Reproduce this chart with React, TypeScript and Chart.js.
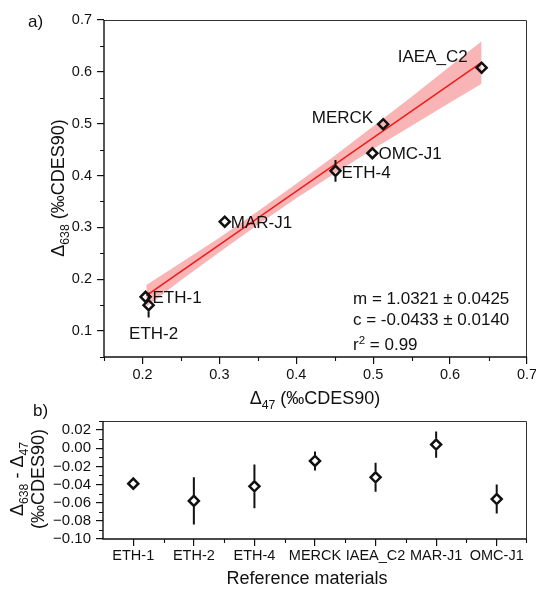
import React, { useEffect, useRef } from "react";
import { Chart, registerables } from "chart.js";

Chart.register(...registerables);

// ---- data ----
const materials = ["ETH-1", "ETH-2", "ETH-4", "MERCK", "IAEA_C2", "MAR-J1", "OMC-J1"];
// panel a: Δ47 vs Δ638 for each material (same order as `materials`)
const d47 = [0.204, 0.208, 0.451, 0.513, 0.641, 0.307, 0.499];
const d638 = [0.166, 0.15, 0.409, 0.499, 0.608, 0.311, 0.443];
const d638Err = [0.004, 0.024, 0.021, 0.005, 0.006, 0.004, 0.005];
// panel b: Δ638 − Δ47 per material
const diff = [-0.039, -0.058, -0.042, -0.014, -0.032, 0.004, -0.056];
const diffErr = [0.003, 0.026, 0.024, 0.0105, 0.016, 0.0145, 0.016];

// regression
const fitSlope = 1.0321;
const fitSlopeErr = 0.0425;
const fitIntercept = -0.0433;
const fitInterceptErr = 0.014;
const fitR2 = 0.99;
const fitRange = [0.205, 0.641];
// confidence band edges
const bandX = [0.205, 0.25, 0.3, 0.35, 0.4, 0.45, 0.5, 0.55, 0.6, 0.641];
const bandUpper = [0.189, 0.232, 0.28, 0.331, 0.384, 0.438, 0.495, 0.552, 0.611, 0.659];
const bandLower = [0.147, 0.198, 0.252, 0.305, 0.356, 0.404, 0.451, 0.496, 0.541, 0.577];

// axes
const topXTicks = [0.2, 0.3, 0.4, 0.5, 0.6, 0.7];
const topXMinor = [0.15, 0.25, 0.35, 0.45, 0.55, 0.65];
const topYTicks = [0.1, 0.2, 0.3, 0.4, 0.5, 0.6, 0.7];
const topYMinor = [0.05, 0.15, 0.25, 0.35, 0.45, 0.55, 0.65];
const botYTicks = [-0.1, -0.08, -0.06, -0.04, -0.02, 0, 0.02];
const botYMinor = [-0.09, -0.07, -0.05, -0.03, -0.01, 0.01, 0.03];

// ---- styling ----
const FONT = '"Liberation Sans", Arial, Helvetica, sans-serif';
const INK = "#111";
const RED = "#ee1c1c";
const BAND = "rgba(240, 70, 70, 0.4)";
const MARKER_R = 5;

const labelPlacement: Record<string, { dx: number; dy: number; align: CanvasTextAlign }> = {
  "ETH-1": { dx: 7, dy: 0, align: "left" },
  "ETH-2": { dx: 5, dy: 28, align: "center" },
  "ETH-4": { dx: 6, dy: 1, align: "left" },
  MERCK: { dx: -10, dy: -7, align: "right" },
  IAEA_C2: { dx: -14, dy: -12, align: "right" },
  "MAR-J1": { dx: 6, dy: 0, align: "left" },
  "OMC-J1": { dx: 6, dy: 0, align: "left" },
};

type Run = { text: string; script?: "sub" | "sup" };

// Draws a line of text with sub/superscripts; y is the visual middle of the capitals.
function drawRuns(
  ctx: CanvasRenderingContext2D,
  runs: Run[],
  x: number,
  y: number,
  size: number,
  align: CanvasTextAlign,
  rotate = false
) {
  ctx.save();
  ctx.translate(x, y);
  if (rotate) ctx.rotate(-Math.PI / 2);
  ctx.fillStyle = INK;
  ctx.textBaseline = "alphabetic";
  ctx.textAlign = "left";
  const small = size * 0.68;
  const widths = runs.map((r) => {
    ctx.font = `${r.script ? small : size}px ${FONT}`;
    return ctx.measureText(r.text).width;
  });
  const total = widths.reduce((a, b) => a + b, 0);
  let cx = align === "left" ? 0 : align === "center" ? -total / 2 : -total;
  const base = size * 0.36;
  runs.forEach((r, i) => {
    ctx.font = `${r.script ? small : size}px ${FONT}`;
    const dy = r.script === "sub" ? size * 0.24 : r.script === "sup" ? -size * 0.36 : 0;
    ctx.fillText(r.text, cx, base + dy);
    cx += widths[i];
  });
  ctx.restore();
}

function drawFrame(chart: any) {
  const { ctx, chartArea: a } = chart;
  ctx.save();
  ctx.strokeStyle = "#333";
  ctx.lineWidth = 1;
  ctx.beginPath();
  ctx.moveTo(a.left, a.top + 0.5);
  ctx.lineTo(a.right - 0.5, a.top + 0.5);
  ctx.lineTo(a.right - 0.5, a.bottom);
  ctx.stroke();
  ctx.strokeStyle = INK;
  ctx.lineWidth = 1.4;
  ctx.beginPath();
  ctx.moveTo(a.left, a.top);
  ctx.lineTo(a.left, a.bottom);
  ctx.lineTo(a.right, a.bottom);
  ctx.stroke();
  ctx.restore();
}

function minorTicksY(chart: any, scaleId: string, values: number[]) {
  const { ctx, chartArea: a } = chart;
  const s = chart.scales[scaleId];
  ctx.save();
  ctx.strokeStyle = INK;
  ctx.lineWidth = 1.1;
  ctx.beginPath();
  values.forEach((v) => {
    const p = Math.round(s.getPixelForValue(v)) + 0.5;
    if (p < a.top - 1 || p > a.bottom + 1) return;
    ctx.moveTo(a.left, p);
    ctx.lineTo(a.left - 4, p);
  });
  ctx.stroke();
  ctx.restore();
}

function minorTicksX(chart: any, pixels: number[]) {
  const { ctx, chartArea: a } = chart;
  ctx.save();
  ctx.strokeStyle = INK;
  ctx.lineWidth = 1.1;
  ctx.beginPath();
  pixels.forEach((px) => {
    const p = Math.round(px) + 0.5;
    ctx.moveTo(p, a.bottom);
    ctx.lineTo(p, a.bottom + 4);
  });
  ctx.stroke();
  ctx.restore();
}

// vertical error bars that stop at the marker outline
function errorBars(chart: any, xs: number[], ys: number[], errs: number[], xId: string, yId: string) {
  const { ctx } = chart;
  const sx = chart.scales[xId];
  const sy = chart.scales[yId];
  ctx.save();
  ctx.strokeStyle = INK;
  ctx.lineWidth = 2;
  ctx.beginPath();
  ys.forEach((y, i) => {
    const px = sx.getPixelForValue(xs[i]);
    const py = sy.getPixelForValue(y);
    const hi = sy.getPixelForValue(y + errs[i]);
    const lo = sy.getPixelForValue(y - errs[i]);
    const gap = MARKER_R + 1;
    if (py - hi > gap) {
      ctx.moveTo(px, hi);
      ctx.lineTo(px, py - gap);
    }
    if (lo - py > gap) {
      ctx.moveTo(px, py + gap);
      ctx.lineTo(px, lo);
    }
  });
  ctx.stroke();
  ctx.restore();
}

const commonGrid = {
  drawOnChartArea: false,
  tickLength: 7,
  color: INK,
  lineWidth: 1.2,
};

function topConfig(): any {
  const fitLine = fitRange.map((x) => ({ x, y: fitSlope * x + fitIntercept }));
  return {
    type: "scatter",
    data: {
      datasets: [
        {
          data: bandX.map((x, i) => ({ x, y: bandUpper[i] })),
          showLine: true,
          fill: "+1",
          backgroundColor: BAND,
          borderColor: "rgba(0,0,0,0)",
          borderWidth: 0,
          pointRadius: 0,
          tension: 0,
          order: 3,
        },
        {
          data: bandX.map((x, i) => ({ x, y: bandLower[i] })),
          showLine: true,
          fill: false,
          borderColor: "rgba(0,0,0,0)",
          borderWidth: 0,
          pointRadius: 0,
          tension: 0,
          order: 4,
        },
        {
          data: fitLine,
          showLine: true,
          fill: false,
          borderColor: RED,
          borderWidth: 1.6,
          pointRadius: 0,
          order: 2,
        },
        {
          data: d47.map((x, i) => ({ x, y: d638[i] })),
          showLine: false,
          pointStyle: "rectRot",
          pointRadius: MARKER_R,
          borderWidth: 2.5,
          borderColor: INK,
          backgroundColor: "rgba(0,0,0,0)",
          order: 1,
        },
      ],
    },
    options: {
      responsive: false,
      animation: false,
      events: [],
      layout: { padding: { top: 20, right: 9, left: 0, bottom: 0 } },
      plugins: { legend: { display: false }, tooltip: { enabled: false } },
      scales: {
        x: {
          type: "linear",
          min: 0.15,
          max: 0.7,
          afterBuildTicks: (s: any) => {
            s.ticks = topXTicks.map((value) => ({ value }));
          },
          afterFit: (s: any) => {
            s.height = 53;
            s.paddingLeft = 0;
            s.paddingRight = 0;
          },
          grid: commonGrid,
          border: { display: false },
          ticks: {
            font: { family: FONT, size: 14.5 },
            color: INK,
            padding: 2,
            maxRotation: 0,
            autoSkip: false,
            callback: (v: any) => Number(v).toFixed(1),
          },
        },
        y: {
          type: "linear",
          min: 0.05,
          max: 0.7,
          afterBuildTicks: (s: any) => {
            s.ticks = topYTicks.map((value) => ({ value }));
          },
          afterFit: (s: any) => {
            s.width = 104;
          },
          grid: commonGrid,
          border: { display: false },
          ticks: {
            font: { family: FONT, size: 14.5 },
            color: INK,
            padding: 5,
            autoSkip: false,
            callback: (v: any) => Number(v).toFixed(1),
          },
        },
      },
    },
    plugins: [
      {
        id: "panelA",
        afterDatasetsDraw(chart: any) {
          errorBars(chart, d47, d638, d638Err, "x", "y");
        },
        afterDraw(chart: any) {
          const { ctx } = chart;
          const sx = chart.scales.x;
          const sy = chart.scales.y;
          drawFrame(chart);
          minorTicksY(chart, "y", topYMinor);
          minorTicksX(chart, topXMinor.map((v) => sx.getPixelForValue(v)));

          // point labels
          materials.forEach((name, i) => {
            const pl = labelPlacement[name];
            const px = sx.getPixelForValue(d47[i]) + pl.dx;
            const py = sy.getPixelForValue(d638[i]) + pl.dy;
            drawRuns(ctx, [{ text: name }], px, py, 17, pl.align);
          });

          // regression statistics
          drawRuns(ctx, [{ text: `m = ${fitSlope.toFixed(4)} ± ${fitSlopeErr.toFixed(4)}` }], 353, 298, 17, "left");
          drawRuns(ctx, [{ text: `c = ${fitIntercept.toFixed(4)} ± ${fitInterceptErr.toFixed(4)}` }], 353, 319, 17, "left");
          drawRuns(ctx, [{ text: "r" }, { text: "2", script: "sup" }, { text: ` = ${fitR2.toFixed(2)}` }], 353, 344, 17, "left");

          // panel tag and axis titles
          drawRuns(ctx, [{ text: "a)" }], 28, 21, 17, "left");
          drawRuns(ctx, [{ text: "Δ" }, { text: "638", script: "sub" }, { text: " (‰CDES90)" }], 58, 188, 18, "center", true);
          drawRuns(ctx, [{ text: "Δ" }, { text: "47", script: "sub" }, { text: " (‰CDES90)" }], 315, 398, 18, "center");
        },
      },
    ],
  };
}

function bottomConfig(): any {
  return {
    type: "line",
    data: {
      labels: materials,
      datasets: [
        {
          data: diff,
          showLine: false,
          pointStyle: "rectRot",
          pointRadius: MARKER_R,
          borderWidth: 2.5,
          borderColor: INK,
          backgroundColor: "rgba(0,0,0,0)",
        },
      ],
    },
    options: {
      responsive: false,
      animation: false,
      events: [],
      layout: { padding: { top: 26, right: 9, left: 0, bottom: 0 } },
      plugins: { legend: { display: false }, tooltip: { enabled: false } },
      scales: {
        x: {
          type: "category",
          offset: true,
          afterFit: (s: any) => {
            s.height = 50;
            s.paddingLeft = 0;
            s.paddingRight = 0;
          },
          grid: { ...commonGrid, offset: false },
          border: { display: false },
          ticks: {
            font: { family: FONT, size: 14.5 },
            color: INK,
            padding: 1,
            maxRotation: 0,
            autoSkip: false,
          },
        },
        y: {
          type: "linear",
          min: -0.1,
          max: 0.03,
          afterBuildTicks: (s: any) => {
            s.ticks = botYTicks.map((value) => ({ value }));
          },
          afterFit: (s: any) => {
            s.width = 103;
          },
          grid: commonGrid,
          border: { display: false },
          ticks: {
            font: { family: FONT, size: 15 },
            color: INK,
            padding: 5,
            autoSkip: false,
            callback: (v: any) => {
              const n = Number(v);
              if (Math.abs(n) < 1e-9) return "0.00";
              return (n < 0 ? "\u2212" : "") + Math.abs(n).toFixed(2);
            },
          },
        },
      },
    },
    plugins: [
      {
        id: "panelB",
        afterDatasetsDraw(chart: any) {
          errorBars(chart, materials.map((_, i) => i), diff, diffErr, "x", "y");
        },
        afterDraw(chart: any) {
          const { ctx, chartArea: a } = chart;
          const sx = chart.scales.x;
          drawFrame(chart);
          minorTicksY(chart, "y", botYMinor);
          const bounds: number[] = [];
          for (let i = 0; i < materials.length - 1; i++) {
            bounds.push((sx.getPixelForValue(i) + sx.getPixelForValue(i + 1)) / 2);
          }
          bounds.push(a.right - 1);
          minorTicksX(chart, bounds);

          drawRuns(ctx, [{ text: "b)" }], 33, 15, 17, "left");
          drawRuns(
            ctx,
            [{ text: "Δ" }, { text: "638", script: "sub" }, { text: " - Δ" }, { text: "47", script: "sub" }],
            17,
            84,
            18,
            "center",
            true
          );
          drawRuns(ctx, [{ text: "(‰CDES90)" }], 38, 84, 18, "center", true);
          drawRuns(ctx, [{ text: "Reference materials" }], 307, 183, 18, "center");
        },
      },
    ],
  };
}

export default function App() {
  const topRef = useRef<HTMLCanvasElement>(null);
  const botRef = useRef<HTMLCanvasElement>(null);

  useEffect(() => {
    const top = new Chart(topRef.current as HTMLCanvasElement, topConfig());
    const bottom = new Chart(botRef.current as HTMLCanvasElement, bottomConfig());
    return () => {
      top.destroy();
      bottom.destroy();
    };
  }, []);

  return (
    <div
      style={{
        position: "fixed",
        left: 0,
        top: 0,
        width: 536,
        height: 589,
        background: "#fff",
        overflow: "hidden",
      }}
    >
      <canvas
        ref={topRef}
        width={536}
        height={410}
        style={{ position: "absolute", left: 0, top: 0, width: 536, height: 410 }}
      />
      <canvas
        ref={botRef}
        width={536}
        height={194}
        style={{ position: "absolute", left: 0, top: 395, width: 536, height: 194 }}
      />
    </div>
  );
}
